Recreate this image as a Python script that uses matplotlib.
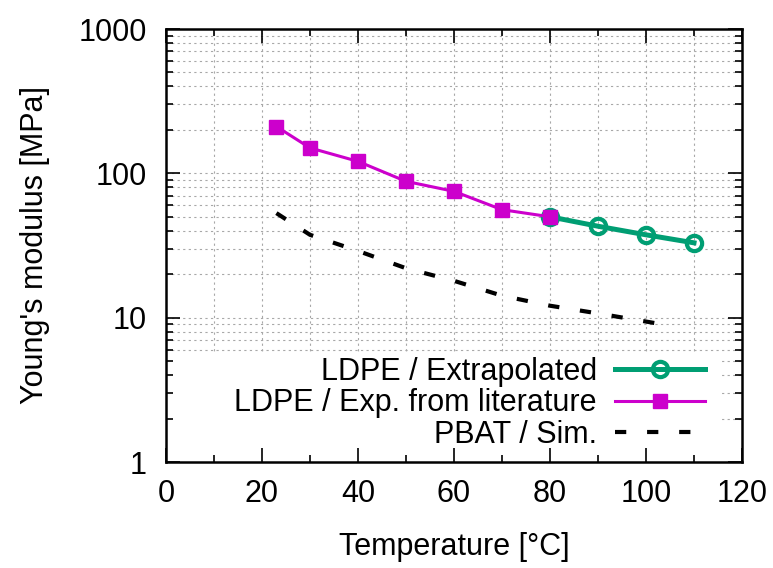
import numpy as np
import matplotlib
matplotlib.use("Agg")
import matplotlib.pyplot as plt
from matplotlib.ticker import MultipleLocator, LogLocator, NullFormatter, FixedLocator, FixedFormatter
from matplotlib.patches import Rectangle

# data
temp_lit = [23, 30, 40, 50, 60, 70, 80]
ldpe_lit = [211, 150, 121, 88, 75, 56, 50]

temp_ext = [80, 90, 100, 110]
ldpe_ext = [50, 43, 37.5, 33]

temp_pbat = [23, 30, 40, 50, 60, 70, 80, 90, 100, 105]
pbat_sim = [53, 37.5, 29, 22, 18, 14.2, 12.1, 10.7, 9.4, 8.8]

ytick_vals = [1, 10, 100, 1000]
ytick_labels = ["1", "10", "100", "1000"]

plt.rcParams['font.family'] = ['Liberation Sans', 'DejaVu Sans']
plt.rcParams['font.size'] = 22

fig = plt.figure(figsize=(7.73, 5.68), dpi=100)
ax = fig.add_axes([166 / 773, 1 - 462 / 568, 576 / 773, 433 / 568])

ax.set_xlim(0, 120)
ax.set_yscale('log')
ax.set_ylim(1, 1000)

# gnuplot-like dotted grid, drawn by hand so the key box can hide it
grid_kw = dict(color='#a8a8a8', lw=0.8, ls=(0, (2, 3)), zorder=0.5)
for gx in np.arange(10, 120, 10):
    ax.axvline(gx, **grid_kw)
for d in range(3):
    for m in range(1, 10):
        gy = m * 10 ** d
        if gy > 1:
            ax.axhline(gy, **grid_kw)

# opaque key area
ax.add_patch(Rectangle((0, 0), 0.965, 0.254, transform=ax.transAxes,
                       facecolor='white', edgecolor='none', zorder=1))

ax.plot(temp_ext, ldpe_ext, color='#009e73', lw=3.6, marker='o', ms=11,
        mfc='none', mew=3, zorder=2, label='LDPE / Extrapolated')
ax.plot(temp_lit, ldpe_lit, color='#cc00cc', lw=2.2, marker='s', ms=10,
        zorder=3, label='LDPE / Exp. from literature')
ax.plot(temp_pbat, pbat_sim, color='black', lw=3, ls=(0, (2.7, 5)),
        zorder=2, label='PBAT / Sim.')

ax.xaxis.set_major_locator(MultipleLocator(20))
ax.xaxis.set_minor_locator(MultipleLocator(10))
ax.yaxis.set_major_locator(FixedLocator(ytick_vals))
ax.yaxis.set_major_formatter(FixedFormatter(ytick_labels))
ax.yaxis.set_minor_locator(LogLocator(base=10, subs=np.arange(2, 10)))
ax.yaxis.set_minor_formatter(NullFormatter())

ax.tick_params(which='both', direction='in', top=True, right=True, width=1.2)
ax.tick_params(which='major', length=10, labelsize=22)
ax.tick_params(axis='x', which='major', pad=12)
ax.tick_params(axis='y', which='major', pad=14)
ax.tick_params(which='minor', length=5)
for sp in ax.spines.values():
    sp.set_linewidth(1.8)

ax.set_xlabel('Temperature [°C]', fontsize=22, labelpad=17)
ax.set_ylabel("Young's modulus [MPa]", fontsize=22, labelpad=20)

ax.legend(loc='lower right', bbox_to_anchor=(0.936, 0.028), frameon=False,
          markerfirst=False, handlelength=2.95, handletextpad=0.6,
          labelspacing=0.05, borderpad=0, borderaxespad=0, fontsize=22)

fig.savefig('out.png', dpi=100)
